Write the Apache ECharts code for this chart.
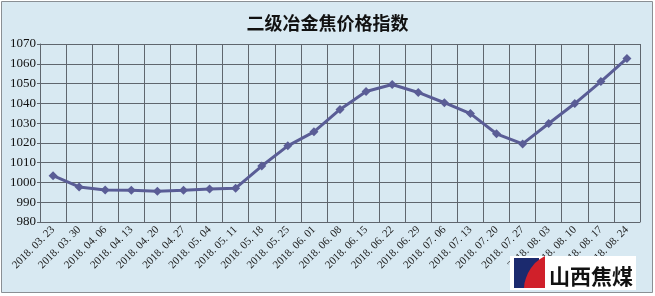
<!DOCTYPE html>
<html><head><meta charset="utf-8">
<script src="https://cdn.jsdelivr.net/npm/echarts@6/dist/echarts.min.js"></script>
<style>html,body{margin:0;padding:0;background:#fff}#c{width:655px;height:296px}</style>
</head><body><div id="c"></div>
<script>
const titleText = '二级冶金焦价格指数';
const categories = ['2018. 03. 23','2018. 03. 30','2018. 04. 06','2018. 04. 13','2018. 04. 20','2018. 04. 27','2018. 05. 04','2018. 05. 11','2018. 05. 18','2018. 05. 25','2018. 06. 01','2018. 06. 08','2018. 06. 15','2018. 06. 22','2018. 06. 29','2018. 07. 06','2018. 07. 13','2018. 07. 20','2018. 07. 27','2018. 08. 03','2018. 08. 10','2018. 08. 17','2018. 08. 24'];
const values = [1003.4,997.7,996.2,996.1,995.6,996.1,996.7,997.1,1008.3,1018.5,1025.6,1036.9,1046.0,1049.5,1045.5,1040.3,1034.8,1024.6,1019.5,1029.8,1039.9,1051.0,1062.7];
const yMin = 980, yMax = 1070, yStep = 10;
const logoText = '山西焦煤';

const chart = echarts.init(document.getElementById('c'));
const gridColor = '#5f666e';
chart.setOption({
  backgroundColor: '#fff',
  animation: false,
  title: {text: titleText, left: 'center', top: 9,
    textStyle: {fontSize: 18, fontWeight: 'bold', color: '#111', fontFamily: 'Noto Sans CJK SC'}},
  grid: {left: 40, right: 15, top: 44, bottom: 74},
  xAxis: {
    type: 'category', data: categories, boundaryGap: true,
    axisLine: {lineStyle: {color: gridColor, width: 1}},
    axisTick: {show: false},
    splitLine: {show: true, interval: 0, lineStyle: {color: gridColor, width: 1}},
    axisLabel: {interval: 0, rotate: 45, fontSize: 11, color: '#222', fontFamily: 'Liberation Serif', margin: 6}
  },
  yAxis: {
    type: 'value', min: yMin, max: yMax, interval: yStep,
    axisLine: {show: true, lineStyle: {color: gridColor}},
    axisTick: {show: true, length: 3, lineStyle: {color: gridColor}},
    splitLine: {lineStyle: {color: gridColor, width: 1}},
    axisLabel: {fontSize: 13, color: '#111', fontFamily: 'Liberation Serif', margin: 4,
      formatter: v => String(v)}
  },
  series: [{
    type: 'line', data: values, symbol: 'diamond', symbolSize: 9,
    lineStyle: {color: '#5a5d96', width: 3},
    itemStyle: {color: '#5a5d96'}
  }],
  graphic: [
    {type: 'rect', z: -10, shape: {x: 1.5, y: 1.5, width: 651, height: 291},
      style: {fill: '#d8e9f2', stroke: '#8a8f94', lineWidth: 1}},
    {type: 'rect', z: 100, shape: {x: 510, y: 256, width: 126, height: 34}, style: {fill: '#ffffff'}},
    {type: 'rect', z: 101, shape: {x: 514, y: 258, width: 25, height: 30}, style: {fill: '#1b2a6e'}},
    {type: 'polygon', z: 102, shape: {points: [[524,288],[524.5,283],[526,278],[528,273],[531,268],[535,263],[540,259],[545,256],[545,288]]}, style: {fill: '#d0202a'}},
    {type: 'text', z: 103, x: 549, y: 266, style: {text: logoText, fontSize: 21, fontWeight: 'bold', fill: '#111',
        fontFamily: 'Noto Sans CJK SC'}}
  ]
});
</script></body></html>
